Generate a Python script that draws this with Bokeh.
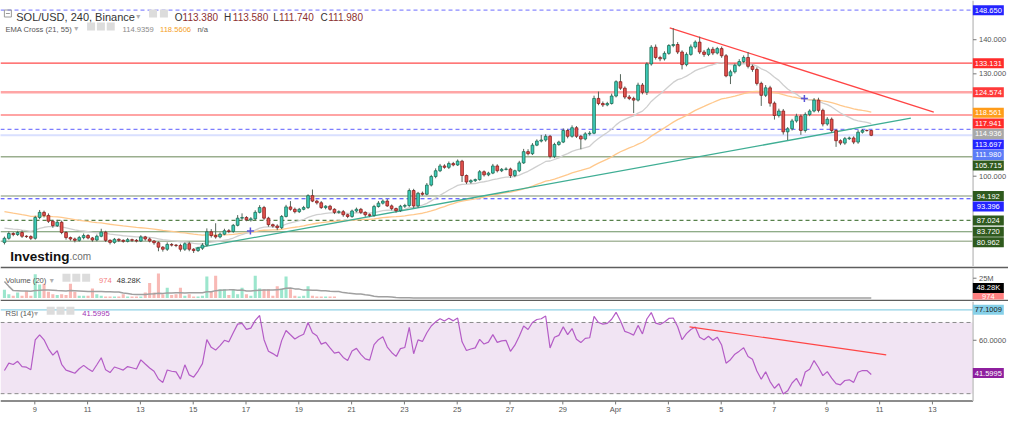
import numpy as np
import pandas as pd
from bokeh.plotting import figure
from bokeh.layouts import column
from bokeh.models import Range1d
from bokeh.embed import file_html
from bokeh.resources import INLINE
from bokeh.core.properties import value

# ---------------- data ----------------
first_open = 80.6
closes = [
    81.8, 83.2, 82.9, 83.5, 82.4, 82.3, 81.8, 87.9, 89.4, 88.5,
    86.8, 85.5, 86.5, 83.5, 82.0, 81.6, 81.2, 82.0, 82.6, 81.9,
    81.3, 82.4, 83.6, 81.2, 80.6, 81.5, 81.2, 80.9, 81.4, 81.2,
    81.0, 82.2, 81.6, 81.0, 80.5, 79.2, 78.6, 80.0, 79.8, 79.7,
    78.6, 80.2, 78.6, 78.2, 78.9, 79.8, 83.7, 82.6, 82.2, 83.0,
    84.0, 83.8, 85.6, 87.7, 87.9, 87.2, 87.5, 89.4, 90.8, 87.7,
    85.8, 85.4, 84.9, 88.2, 91.0, 90.3, 89.6, 90.3, 90.8, 94.3,
    92.7, 92.2, 90.8, 91.2, 90.3, 89.4, 89.6, 88.7, 88.2, 89.8,
    90.3, 89.4, 88.7, 88.5, 91.1, 92.1, 92.7, 91.3, 90.5, 89.9,
    91.2, 91.4, 95.8, 91.3, 95.0, 94.7, 97.4, 99.9, 101.6, 103.0,
    102.6, 103.7, 103.3, 104.4, 100.2, 98.3, 98.7, 99.0, 101.3, 100.4,
    100.9, 103.0, 101.6, 102.0, 102.1, 100.2, 101.6, 103.9, 107.2, 106.6,
    109.1, 110.3, 110.6, 111.7, 105.8, 109.3, 110.0, 113.4, 111.7, 114.2,
    111.7, 110.9, 112.4, 112.6, 122.8, 121.3, 120.9, 121.3, 123.5, 127.7,
    125.8, 123.2, 122.8, 122.3, 126.7, 124.6, 132.9, 137.8, 134.8, 134.4,
    136.0, 138.3, 138.6, 136.4, 132.7, 135.7, 137.9, 139.3, 136.4, 135.7,
    137.2, 136.1, 137.4, 135.3, 129.4, 130.6, 132.5, 133.6, 134.8, 132.2,
    131.3, 127.2, 123.7, 125.9, 121.4, 117.8, 119.1, 113.0, 113.9, 116.2,
    117.6, 113.4, 118.1, 119.1, 122.3, 119.3, 115.3, 116.7, 113.4, 110.4,
    109.7, 111.0, 111.2, 110.0, 112.9, 113.4, 113.38, 111.98,
]
wick_up = [
    0.5, 0.6, 0.4, 0.5, 0.6, 0.3, 0.4, 0.5, 0.7, 0.5,
    0.6, 0.4, 0.7, 0.5, 0.4, 0.3, 0.4, 0.5, 0.6, 0.4,
    0.3, 0.5, 1.0, 0.4, 0.3, 0.4, 0.3, 0.3, 0.5, 0.3,
    0.4, 0.5, 0.3, 0.4, 0.3, 0.4, 0.3, 0.6, 0.4, 0.3,
    0.5, 0.4, 0.6, 0.3, 0.4, 0.6, 1.0, 0.8, 3.6, 0.5,
    0.6, 0.5, 0.4, 0.9, 1.2, 0.4, 0.5, 0.6, 0.7, 0.5,
    0.4, 0.3, 0.5, 0.4, 0.6, 1.7, 0.5, 0.4, 0.5, 0.4,
    1.8, 0.4, 0.5, 0.3, 0.4, 0.3, 0.4, 0.5, 0.3, 0.4,
    0.5, 0.4, 0.3, 0.4, 0.5, 0.6, 0.5, 0.6, 0.4, 0.3,
    0.4, 0.5, 0.6, 0.5, 0.4, 0.5, 0.6, 0.5, 0.7, 0.6,
    0.5, 0.6, 0.5, 0.5, 0.4, 0.3, 0.4, 0.3, 0.5, 0.4,
    0.4, 0.6, 0.5, 0.4, 0.5, 0.4, 0.3, 0.6, 0.8, 0.7,
    0.6, 0.5, 1.5, 0.6, 0.4, 0.5, 0.4, 0.6, 0.5, 0.7,
    0.5, 0.4, 0.5, 0.6, 0.8, 2.0, 0.6, 0.5, 0.7, 0.4,
    2.2, 0.5, 0.6, 0.5, 0.7, 0.6, 0.5, 0.6, 0.8, 0.5,
    0.6, 0.4, 4.8, 0.7, 0.5, 0.6, 0.7, 0.5, 1.6, 0.6,
    0.5, 0.7, 0.5, 0.6, 0.5, 0.6, 0.5, 0.7, 0.6, 1.6,
    0.5, 0.6, 0.5, 0.8, 0.6, 0.5, 0.7, 0.6, 0.5, 0.6,
    0.7, 0.5, 0.6, 0.5, 0.6, 0.7, 0.5, 0.6, 0.5, 0.4,
    0.4, 0.5, 0.4, 0.5, 0.6, 0.4, 0.3, 0.2,
]
wick_dn = [
    0.6, 0.4, 0.5, 0.4, 0.5, 0.4, 0.5, 0.4, 0.5, 0.6,
    0.5, 0.6, 0.4, 0.5, 0.6, 0.5, 0.6, 0.4, 0.5, 0.4,
    0.5, 0.4, 0.3, 0.5, 0.6, 0.4, 0.5, 0.4, 0.3, 0.5,
    0.4, 0.3, 0.5, 0.4, 0.6, 1.2, 0.7, 0.5, 0.4, 0.5,
    0.7, 0.5, 0.6, 0.7, 0.4, 0.5, 0.4, 0.6, 0.5, 0.4,
    0.3, 0.5, 0.4, 0.3, 0.5, 0.4, 0.5, 0.4, 0.3, 0.5,
    0.6, 0.5, 0.7, 0.4, 0.3, 0.4, 0.5, 0.4, 0.3, 0.4,
    0.3, 0.5, 0.4, 0.5, 0.4, 0.5, 0.4, 0.6, 0.5, 0.4,
    0.4, 0.5, 0.6, 0.5, 0.4, 0.3, 0.4, 0.3, 0.5, 0.6,
    0.4, 0.5, 0.4, 0.6, 0.5, 0.4, 0.3, 0.4, 0.5, 0.4,
    0.4, 0.5, 0.4, 0.3, 1.9, 0.6, 0.5, 0.4, 0.3, 0.5,
    0.4, 0.3, 0.5, 0.4, 0.3, 0.7, 0.5, 0.4, 0.3, 0.5,
    0.4, 0.3, 0.4, 0.5, 0.6, 0.5, 0.4, 0.3, 0.6, 0.4,
    0.5, 3.0, 0.4, 0.5, 0.3, 0.5, 0.6, 0.4, 0.3, 0.4,
    0.5, 0.6, 0.5, 3.8, 0.4, 0.6, 0.8, 0.5, 0.6, 0.7,
    0.5, 0.4, 0.5, 0.6, 1.4, 0.5, 0.4, 0.5, 0.6, 0.7,
    0.5, 0.6, 0.4, 0.6, 0.4, 2.4, 0.5, 0.4, 0.5, 0.6,
    0.7, 0.6, 3.1, 0.5, 1.0, 1.2, 0.6, 0.8, 2.4, 0.5,
    0.5, 1.3, 0.6, 0.5, 0.4, 0.6, 0.7, 0.5, 0.6, 1.8,
    0.6, 0.5, 0.4, 0.6, 0.5, 0.4, 0.3, 0.24,
]
last_ohlc = ["113.380", "113.580", "111.740", "111.980"]

# volume in millions for the first bars, then thousands
vol_m = [
    10.5, 5, 3, 7, 3, 9, 3, 30, 17, 18,
    8, 5, 4, 5, 4, 18, 8, 3, 3, 3,
    12, 5, 3, 2, 2, 2, 2, 5, 2, 2,
    2, 2, 7, 19, 7, 31, 5, 13, 4, 5,
    13, 3, 5, 2, 2, 3, 27, 8, 28, 11,
    11, 4, 11, 5, 13, 5, 3, 28, 12, 11,
    11, 3, 15, 12, 27, 11, 3, 2, 3, 15,
    3, 2, 2, 2, 2, 2,
]
vol_tail_k = [
    62, 55, 71, 48, 53, 66, 59, 44, 51, 73, 68, 57, 49, 61, 55, 47, 58, 64, 70, 52,
    45, 50, 63, 57, 49, 54, 60, 66, 72, 58, 51, 47, 55, 62, 68, 59, 53, 48, 57, 61,
    65, 70, 56, 50, 46, 52, 58, 64, 69, 75, 61, 54, 49, 53, 57, 63, 66, 58, 52, 47,
    51, 56, 60, 67, 71, 62, 55, 50, 46, 53, 59, 64, 58, 51, 48, 54, 61, 65, 57, 50,
    45, 49, 55, 62, 68, 60, 53, 47, 52, 58, 63, 56, 49, 44, 50, 57, 61, 54, 48, 52,
    59, 66, 60, 53, 47, 51, 56, 62, 57, 50, 46, 49, 53, 58, 52, 47, 44, 48, 51, 47, 45, 0.974,
]
vol_prior_m = [130, 110, 11, 10, 10, 9, 10, 11, 10, 9, 10, 11, 10, 9, 10, 10, 9, 10, 11]
vol_labels = ["974", "48.28K"]

ema21_seed, ema55_seed = 85.1, 89.9
ema21_label, ema55_label = "114.9359", "118.5606"
rsi_seed_gain, rsi_seed_loss = 0.55, 0.85
rsi_label = "41.5995"

levels = [148.650, 133.131, 124.574, 117.941, 113.697, 111.980,
          105.715, 94.192, 93.396, 87.024, 83.720, 80.962]
level_color = ["#8a8aff", "#ff4a4a", "#ffa6a6", "#ff4a4a", "#7d7dff", "#b3c0ff",
               "#9aae8e", "#a8b69f", "#3a3aff", "#56804a", "#6a9060", "#a9b9a0"]
level_dash = ["4 3", "solid", "solid", "solid", "4 3", "1 1",
              "solid", "solid", "4 3", "4 3", "solid", "solid"]
level_width = [1.2, 1.2, 2.5, 1.2, 1.2, 2.0, 1.5, 1.5, 1.2, 1.2, 1.2, 1.5]
level_tag = ["#2424ff", "#ff2b2b", "#ff3a3a", "#ff2b2b", "#2424ff", "#5b7cf7",
             "#2f5a1e", "#2f5a1e", "#2424ff", "#2f5a1e", "#2f5a1e", "#2f5a1e"]
price_ticks = [140, 130, 100]

trend_red_bar, trend_red_price = [151.2, 211.2], [143.5, 118.8]
trend_teal_bar, trend_teal_price = [43.4, 206.0], [78.9, 117.0]
rsi_trend_bar, rsi_trend_val = [155.7, 200.4], [67.5, 51.8]
rsi_hline = 77.1009
ema_cross_bar, ema_cross_price = [55.9, 181.8], [83.9, 122.8]

date_labels = ["9", "11", "13", "15", "17", "19", "21", "23", "25", "27",
               "29", "Apr", "3", "5", "7", "9", "11", "13"]
BARS_PER_2DAYS = 12
FIRST_TICK_BAR = 6.9

# ---------------- derived series ----------------
n = len(closes)
idx = np.arange(n, dtype=float)
c = np.array(closes)
o = np.array([first_open] + closes[:-1])
hi = np.maximum(o, c) + np.array(wick_up)
lo = np.minimum(o, c) - np.array(wick_dn)
up = c >= o

def ema(vals, span, seed):
    a = 2.0 / (span + 1)
    e, out = seed, []
    for v in vals:
        e = a * v + (1 - a) * e
        out.append(e)
    return np.array(out)

ema21 = ema(closes, 21, ema21_seed)
ema55 = ema(closes, 55, ema55_seed)

rsi = []
ag, al, prev = rsi_seed_gain, rsi_seed_loss, first_open
for v in closes:
    ch = v - prev
    ag = (ag * 13 + max(ch, 0)) / 14
    al = (al * 13 + max(-ch, 0)) / 14
    rsi.append(100 - 100 / (1 + ag / al))
    prev = v
rsi = np.array(rsi)

vol = np.array((vol_m + [k / 1000.0 for k in vol_tail_k])[:n])
vol_ma = pd.Series(vol_prior_m + list(vol)).rolling(20).mean().to_numpy()[len(vol_prior_m):]

# ---------------- layout helpers (reference pixel -> data) ----------------
FONT = value("Liberation Sans")
SYM = value("DejaVu Sans")
W = 1008
def bx(rx): return (rx - 4.0) / 4.47
def main_y(ry): return 100.0 + (182.3 - ry) / 3.54
def vol_y(ry): return (309.5 - ry) / 0.86
def rsi_y(ry): return 70.0 - (ry - 334.3) / 1.85

XL, XB = bx(0), bx(988)
xr = Range1d(bx(0), bx(1024))

def make_fig(h, yr, **kw):
    p = figure(width=W, height=h, x_range=xr, y_range=Range1d(*yr),
               output_backend="svg", toolbar_location=None,
               x_axis_location=None, y_axis_location=None,
               min_border=0, min_border_left=0, min_border_right=0,
               background_fill_color="white", outline_line_color=None, **kw)
    p.grid.visible = False
    return p

def txt(p, xs, ys, texts, size, color, align="left", baseline="alphabetic", font=FONT, style="normal"):
    p.text(x=xs, y=ys, text=texts, text_font=font, text_font_size=size, text_color=color,
           text_align=align, text_baseline=baseline, text_font_style=style)

def tags(p, ys, labels, bgs, fgs):
    xs = [bx(1003.5)] * len(ys)
    p.rect(x=xs, y=ys, width=[31] * len(ys), height=[10] * len(ys), width_units="screen",
           height_units="screen", fill_color=bgs, line_color=None)
    txt(p, xs, ys, labels, "7.5px", fgs, align="center", baseline="middle")

def icons(p, rxs, yv):
    p.rect(x=[bx(v) for v in rxs], y=[yv] * len(rxs), width=8, height=8,
           width_units="screen", height_units="screen", fill_color="#dcdcdc", line_color=None)

def axis_ticks(p, vals, labels):
    p.segment(x0=[XB] * len(vals), y0=vals, x1=[bx(991.5)] * len(vals), y1=vals, color="#777", line_width=1)
    txt(p, [bx(994)] * len(vals), vals, labels, "7.5px", "#555", baseline="middle")

# ---------------- main price panel ----------------
p1 = make_fig(266, (main_y(276), main_y(0)), min_border_top=0, min_border_bottom=0)

for lv, col, dash, lw in zip(levels, level_color, level_dash, level_width):
    p1.segment(x0=[XL], y0=[lv], x1=[XB], y1=[lv], color=col, line_dash=dash, line_width=lw)

p1.line(idx, ema55, color="#ffc88c", line_width=1.3)
p1.line(idx, ema21, color="#cfcfcf", line_width=1.3)
p1.line(trend_teal_bar, trend_teal_price, color="#3fae94", line_width=1.3)
p1.line(trend_red_bar, trend_red_price, color="#ff4545", line_width=1.3)

p1.segment(x0=idx, y0=lo, x1=idx, y1=hi, color="#55655a", line_width=1)
p1.vbar(x=idx[up], bottom=o[up], top=c[up], width=0.62, fill_color="#3ccbb8",
        line_color="#1d6e56", line_width=0.8)
p1.vbar(x=idx[~up], bottom=c[~up], top=o[~up], width=0.62, fill_color="#e4534e",
        line_color="#8a1e1e", line_width=0.8)
p1.scatter(x=ema_cross_bar, y=ema_cross_price, marker="cross", size=7, color="#5a55d8", line_width=1.5)

# right axis
p1.segment(x0=[XB], y0=[main_y(276)], x1=[XB], y1=[main_y(0)], color="#c6c6c6", line_width=1.5)
axis_ticks(p1, price_ticks, [f"{t:.3f}" for t in price_ticks])
tag_vals = levels + [float(ema55_label), float(ema21_label)]
tag_bg = level_tag + ["#ff9c1a", "#a8a8a8"]
order = np.argsort(tag_vals)[::-1]
placed, last = [], -1e9
for k in order:
    ypx = 182.3 - (tag_vals[k] - 100) * 3.54
    ypx = max(ypx, last + 10.9)
    last = ypx
    placed.append((k, ypx))
tags(p1, [main_y(ypx) for _, ypx in placed], [f"{tag_vals[k]:.3f}" for k, _ in placed],
     [tag_bg[k] for k, _ in placed], ["white"] * len(placed))

# header
p1.rect(x=[bx(7.5)], y=[main_y(13.5)], width=7, height=7, width_units="screen", height_units="screen",
        fill_color=None, line_color="#9a9a9a")
p1.segment(x0=[bx(5.5)], y0=[main_y(13.5)], x1=[bx(9.5)], y1=[main_y(13.5)], color="#9a9a9a")
txt(p1, [bx(16)], [main_y(17.3)], ["SOL/USD, 240, Binance"], "11px", "#333333")
txt(p1, [bx(138), bx(75)], [main_y(16.5), main_y(29.5)], ["\u25be", "\u25be"], "8px", "#b0b0b0", font=SYM)
icons(p1, [155, 166], main_y(13.5))
txt(p1, [bx(177), bx(227), bx(277), bx(325)], [main_y(17.3)] * 4, ["O", "H", "L", "C"], "10px", "#333333")
txt(p1, [bx(185), bx(236), bx(283), bx(333)], [main_y(17.3)] * 4, last_ohlc, "10px", "#8d2f2f")
txt(p1, [bx(5)], [main_y(30)], ["EMA Cross (21, 55)"], "7.6px", "#555555")
icons(p1, [92, 102, 112], main_y(27))
txt(p1, [bx(124), bx(162), bx(200)], [main_y(30)] * 3, [ema21_label, ema55_label, "n/a"], "7.6px",
    ["#8a8a8a", "#f5a01e", "#555555"])
txt(p1, [bx(10)], [main_y(266)], ["Investing"], "13.5px", "#111111", style="bold")
txt(p1, [bx(70)], [main_y(266)], [".com"], "10px", "#6f6f6f")

# ---------------- volume panel ----------------
p2 = make_fig(35, (vol_y(311), vol_y(277.5)), min_border_top=2, min_border_bottom=2,
              border_fill_color="#5e5e5e")
p2.vbar(x=idx[up], top=vol[up], bottom=0, width=0.7, fill_color="#9ce6cd", line_color=None)
p2.vbar(x=idx[~up], top=vol[~up], bottom=0, width=0.7, fill_color="#f8b9b5", line_color=None)
p2.line(idx, vol_ma, color="#a0a0a0", line_width=1.5)
p2.segment(x0=[XB], y0=[vol_y(311)], x1=[XB], y1=[vol_y(277.5)], color="#c6c6c6", line_width=1.5)
axis_ticks(p2, [25], ["25M"])
tags(p2, [vol_y(307.5)], [vol_labels[0]], ["#ff8080"], ["white"])
tags(p2, [vol_y(298.5)], [vol_labels[1]], ["#000000"], ["white"])
txt(p2, [bx(5)], [vol_y(290.7)], ["Volume (20)"], "7.6px", "#555555")
txt(p2, [bx(50)], [vol_y(290.5)], ["\u25be"], "8px", "#b0b0b0", font=SYM)
icons(p2, [67, 77, 87], vol_y(287.5))
txt(p2, [bx(100), bx(118)], [vol_y(290.7)] * 2, vol_labels, "7.6px", ["#f47c7c", "#333333"])

# ---------------- RSI panel + date axis ----------------
p3 = make_fig(114, (rsi_y(431), rsi_y(312.5)), min_border_top=0, min_border_bottom=0)
p3.quad(left=[XL], right=[XB], bottom=[30], top=[70], fill_color="#f1e4f3", line_color=None)
p3.segment(x0=[XL, XL], y0=[70, 30], x1=[XB, XB], y1=[70, 30], color="#8a8a8a", line_dash="4 3", line_width=1)
p3.segment(x0=[XL], y0=[rsi_hline], x1=[XB], y1=[rsi_hline], color="#8fd2e6", line_width=1.3)
p3.line(idx, rsi, color="#b45cc6", line_width=1.2)
p3.line(rsi_trend_bar, rsi_trend_val, color="#ff4545", line_width=1.2)
ybase = rsi_y(416)
p3.segment(x0=[XL], y0=[ybase], x1=[XB], y1=[ybase], color="#666666", line_width=1.5)
p3.segment(x0=[XB], y0=[ybase], x1=[XB], y1=[rsi_y(312.5)], color="#c6c6c6", line_width=1.5)
axis_ticks(p3, [60], ["60.0000"])
tags(p3, [rsi_hline], [f"{rsi_hline:.4f}"], ["#86d0e8"], ["#1a1a1a"])
tags(p3, [float(rsi_label)], [rsi_label], ["#8e1f9e"], ["white"])
txt(p3, [bx(5)], [rsi_y(325)], ["RSI (14)"], "7.6px", "#555555")
txt(p3, [bx(34)], [rsi_y(325)], ["\u25be"], "8px", "#b0b0b0", font=SYM)
icons(p3, [51, 61, 71], rsi_y(322))
txt(p3, [bx(83)], [rsi_y(325)], [rsi_label], "7.6px", "#a034b4")
tick_x = [FIRST_TICK_BAR + BARS_PER_2DAYS * k for k in range(len(date_labels))]
p3.segment(x0=tick_x, y0=[ybase] * len(tick_x), x1=tick_x, y1=[rsi_y(419.5)] * len(tick_x),
           color="#777777", line_width=1)
txt(p3, tick_x, [rsi_y(424.5)] * len(tick_x), date_labels, "7.5px", "#555555",
    align="center", baseline="middle")

layout = column(p1, p2, p3, spacing=0)
open("out.html", "w").write(file_html(layout, INLINE, "SOL/USD"))
